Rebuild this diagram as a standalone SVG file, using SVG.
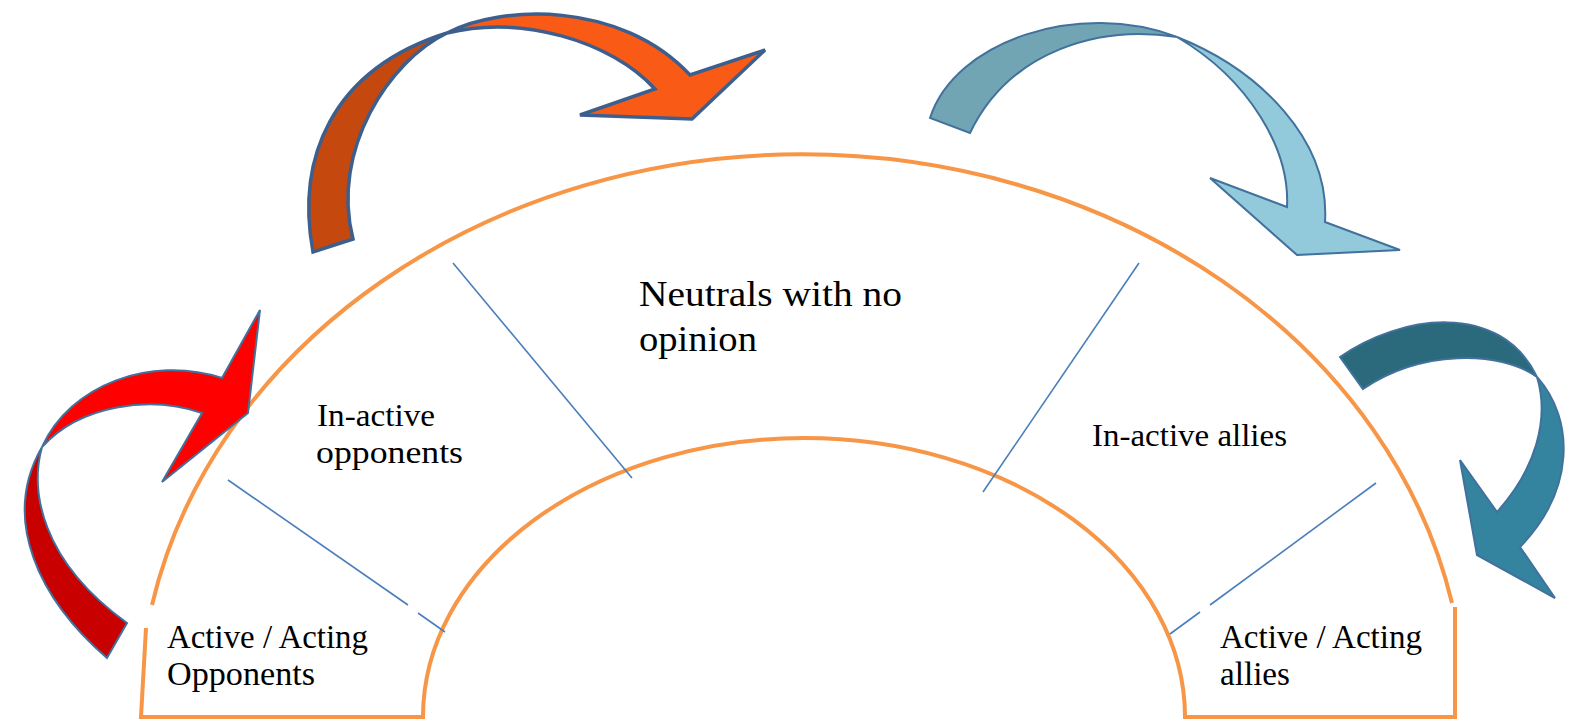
<svg xmlns="http://www.w3.org/2000/svg" width="1586" height="722" viewBox="0 0 1586 722">
<style>
.arch{fill:none;stroke:#F79646;stroke-width:4;stroke-linejoin:miter}
.div{stroke:#4A7EBB;stroke-width:1.6;fill:none}
.arr{stroke:#41719C;stroke-width:2;stroke-linejoin:miter}
.arrT{stroke:#3D5F8E;stroke-width:3.5;stroke-linejoin:miter}
.t{font-family:"Liberation Serif","Times New Roman",serif;fill:#000}
</style>
<rect width="1586" height="722" fill="#fff"/>
<g id="arch">
<path class="arch" d="M146,628 L141,717 L423,717 A381,279 0 0 1 1185,717 L1455,717 L1455,607"/>
<path class="arch" d="M1452,603 A663,560 0 0 0 152,605"/>
</g>
<g id="connectors">
<line class="div" x1="453" y1="263" x2="632" y2="478"/>
<line class="div" x1="228" y1="480" x2="408" y2="605"/>
<line class="div" x1="418" y1="613" x2="445" y2="632"/>
<line class="div" x1="1139" y1="263" x2="983" y2="492"/>
<line class="div" x1="1376" y1="483" x2="1210" y2="605"/>
<line class="div" x1="1200" y1="612" x2="1170" y2="634"/>
</g>
<g id="arrow-orange">
<path class="arrT" fill="#C5480F" d="M313,252 C296,160 330,70 447,33 C390,60 330,150 353,239 Z"/>
<path class="arrT" fill="#F95A16" d="M447,33 C500,5 620,0 690,75 L765,50 L692,119 L580,115 L655,89 C610,40 520,15 447,33 Z"/>
</g>
<g id="arrow-red">
<path class="arr" fill="#C80000" d="M107,658 C40,600 0,520 42,447 C30,490 40,560 127,623 Z"/>
<path class="arr" fill="#FF0000" d="M42,447 C70,385 150,355 222,378 L260,310 L248,413 L162,482 L202,413 C150,395 80,405 42,447 Z"/>
</g>
<g id="arrow-lightblue">
<path class="arr" fill="#72A5B3" d="M930,118 C955,40 1080,0 1177,37 C1100,25 1010,50 970,133 Z"/>
<path class="arr" fill="#92CADB" d="M1177,37 C1260,70 1330,140 1325,222 L1400,250 L1297,255 L1210,178 L1287,207 C1290,150 1250,80 1177,37 Z"/>
</g>
<g id="arrow-teal">
<path class="arr" fill="#2B6A7C" d="M1340,357 C1400,315 1500,300 1537,377 C1500,350 1420,350 1363,389 Z"/>
<path class="arr" fill="#3484A0" d="M1537,377 C1575,420 1575,490 1520,547 L1555,598 L1477,555 L1460,460 L1497,512 C1535,470 1550,420 1537,377 Z"/>
</g>
<g id="node-neutrals">
<text class="t" font-size="36" x="639" y="306" textLength="263" lengthAdjust="spacingAndGlyphs">Neutrals with no</text>
<text class="t" font-size="36" x="639" y="351" textLength="118" lengthAdjust="spacingAndGlyphs">opinion</text>
</g>
<g id="node-inactive-opponents">
<text class="t" font-size="32" x="317" y="426" textLength="118" lengthAdjust="spacingAndGlyphs">In-active</text>
<text class="t" font-size="32" x="316" y="463" textLength="147" lengthAdjust="spacingAndGlyphs">opponents</text>
</g>
<g id="node-inactive-allies">
<text class="t" font-size="32" x="1092" y="446" textLength="195" lengthAdjust="spacingAndGlyphs">In-active allies</text>
</g>
<g id="node-active-opponents">
<text class="t" font-size="34" x="167" y="648" textLength="201" lengthAdjust="spacingAndGlyphs">Active / Acting</text>
<text class="t" font-size="34" x="167" y="685" textLength="148" lengthAdjust="spacingAndGlyphs">Opponents</text>
</g>
<g id="node-active-allies">
<text class="t" font-size="34" x="1220" y="648" textLength="202" lengthAdjust="spacingAndGlyphs">Active / Acting</text>
<text class="t" font-size="34" x="1220" y="685" textLength="70" lengthAdjust="spacingAndGlyphs">allies</text>
</g>
</svg>
